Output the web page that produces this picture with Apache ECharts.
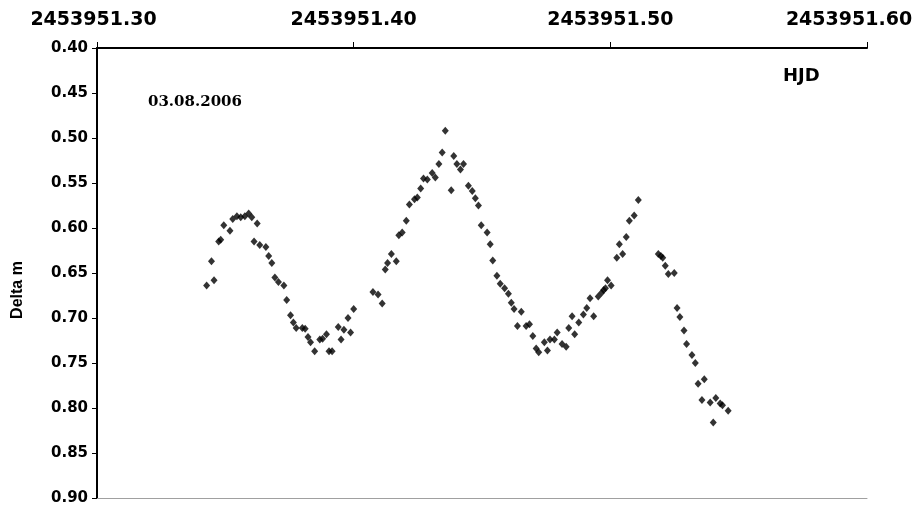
<!DOCTYPE html>
<html>
<head>
<meta charset="utf-8">
<script src="https://cdn.jsdelivr.net/npm/echarts@6/dist/echarts.min.js"></script>
<style>html,body{margin:0;padding:0;background:#fff}#c{width:923px;height:512px}</style>
</head>
<body>
<div id="c"></div>
<script>
// HJD values
const hjd = [
2453951.3427,2453951.3446,2453951.3456,2453951.3474,2453951.3482,2453951.3494,2453951.3518,2453951.3529,2453951.3545,2453951.3560,
2453951.3576,2453951.3591,2453951.3603,2453951.3624,2453951.3612,2453951.3634,2453951.3658,2453951.3669,2453951.3681,2453951.3693,
2453951.3707,2453951.3728,2453951.3739,2453951.3754,2453951.3765,2453951.3776,2453951.3800,2453951.3811,2453951.3822,2453951.3832,
2453951.3848,2453951.3868,2453951.3879,2453951.3894,2453951.3904,2453951.3916,2453951.3940,2453951.3951,2453951.3962,2453951.3978,
2453951.3988,2453951.4000,2453951.4075,2453951.4095,2453951.4111,2453951.4123,2453951.4132,2453951.4147,2453951.4166,2453951.4176,
2453951.4189,2453951.4205,2453951.4217,2453951.4237,2453951.4248,2453951.4261,2453951.4272,2453951.4287,2453951.4306,2453951.4318,
2453951.4332,2453951.4345,2453951.4357,2453951.4380,2453951.4390,2453951.4402,2453951.4416,2453951.4428,2453951.4447,2453951.4462,
2453951.4474,2453951.4486,2453951.4497,2453951.4520,2453951.4532,2453951.4542,2453951.4558,2453951.4571,2453951.4588,2453951.4603,
2453951.4614,2453951.4625,2453951.4638,2453951.4653,2453951.4672,2453951.4685,2453951.4698,2453951.4711,2453951.4721,2453951.4743,
2453951.4755,2453951.4765,2453951.4782,2453951.4793,2453951.4812,2453951.4828,2453951.4838,2453951.4851,2453951.4861,2453951.4877,
2453951.4895,2453951.4908,2453951.4921,2453951.4935,2453951.4953,2453951.4966,2453951.4974,2453951.4981,2453951.4989,2453951.5003,
2453951.5025,2453951.5035,2453951.5048,2453951.5062,2453951.5074,2453951.5093,2453951.5109,2453951.5187,2453951.5197,2453951.5204,
2453951.5214,2453951.5226,2453951.5249,2453951.5260,2453951.5271,2453951.5287,2453951.5297,2453951.5318,2453951.5331,2453951.5342,
2453951.5366,2453951.5357,2453951.5389,2453951.5401,2453951.5411,2453951.5428,2453951.5437,2453951.5459
];
// Delta m values
const deltaM = [
0.664,0.637,0.658,0.615,0.613,0.597,0.603,0.590,0.587,0.588,
0.587,0.584,0.588,0.595,0.615,0.619,0.621,0.631,0.639,0.655,
0.660,0.664,0.680,0.697,0.705,0.711,0.711,0.712,0.721,0.727,
0.737,0.724,0.723,0.718,0.737,0.737,0.710,0.724,0.713,0.700,
0.716,0.690,0.671,0.674,0.684,0.646,0.639,0.629,0.637,0.608,
0.605,0.592,0.574,0.568,0.566,0.556,0.545,0.546,0.539,0.544,
0.529,0.516,0.492,0.558,0.520,0.529,0.535,0.529,0.553,0.559,
0.567,0.575,0.597,0.605,0.618,0.636,0.653,0.662,0.667,0.673,
0.683,0.690,0.709,0.693,0.709,0.707,0.720,0.734,0.738,0.727,
0.736,0.724,0.724,0.716,0.729,0.732,0.711,0.698,0.718,0.705,
0.696,0.689,0.678,0.698,0.676,0.672,0.669,0.667,0.658,0.664,
0.633,0.618,0.629,0.610,0.592,0.586,0.569,0.629,0.631,0.633,
0.642,0.651,0.650,0.689,0.699,0.714,0.729,0.741,0.750,0.773,
0.768,0.791,0.794,0.816,0.789,0.795,0.797,0.803
];
const xMin = 2453951.30, xMax = 2453951.60, xStep = 0.10;
const yMin = 0.40, yMax = 0.90, yStep = 0.05;
const dateLabel = '03.08.2006';

const points = hjd.map((x, i) => [x, deltaM[i]]);
const chart = echarts.init(document.getElementById('c'), null, {renderer: 'canvas'});
const base = 2453951.30;
chart.setOption({
  animation: false,
  backgroundColor: '#fff',
  grid: {left: 97, right: 56, top: 48, bottom: 14, containLabel: false},
  xAxis: [{
    type: 'value', position: 'top', min: xMin, max: xMax, interval: xStep,
    axisLine: {show: true, lineStyle: {color: '#000', width: 2}},
    axisTick: {show: true, inside: false, length: 6, lineStyle: {color: '#000', width: 1}},
    splitLine: {show: false},
    axisLabel: {
      margin: 18,
      fontFamily: 'DejaVu Sans', fontWeight: 'bold', fontSize: 19, color: '#000',
      formatter: function (v) {
        const t = (v).toFixed(2);
        if (Math.abs(v - xMax) < 1e-6) return '{last|' + t + '}';
        if (Math.abs(v - xMin) < 1e-6) return '{first|' + t + '}';
        return t;
      },
      rich: {
        last: {fontFamily: 'DejaVu Sans', fontWeight: 'bold', fontSize: 19, color: '#000', padding: [0, 36, 0, 0]},
        first: {fontFamily: 'DejaVu Sans', fontWeight: 'bold', fontSize: 19, color: '#000', padding: [0, 7, 0, 0]}
      }
    }
  }, {
    type: 'value', position: 'bottom', min: xMin, max: xMax,
    axisLine: {show: true, lineStyle: {color: '#a0a0a0', width: 1}},
    axisTick: {show: false}, axisLabel: {show: false}, splitLine: {show: false}
  }],
  yAxis: {
    type: 'value', inverse: true, min: yMin, max: yMax, interval: yStep,
    axisLine: {show: true, lineStyle: {color: '#000', width: 2}},
    axisTick: {show: true, inside: false, length: 5, lineStyle: {color: '#000', width: 1}},
    splitLine: {show: false},
    axisLabel: {
      margin: 9,
      fontFamily: 'DejaVu Sans', fontWeight: 'bold', fontSize: 15, color: '#000',
      formatter: v => v.toFixed(2)
    }
  },
  graphic: [
    {type: 'text', left: 6, top: 0, style: {}, silent: true, invisible: true},
    {type: 'text', x: 18, y: 290, rotation: Math.PI / 2,
      style: {text: 'Delta m', fontFamily: 'Liberation Sans', fontWeight: 'bold', fontSize: 16, fill: '#000', align: 'center', verticalAlign: 'middle'}},
    {type: 'text', x: 783, y: 76,
      style: {text: 'HJD', fontFamily: 'DejaVu Sans', fontWeight: 'bold', fontSize: 18, fill: '#000', align: 'left', verticalAlign: 'middle'}},
    {type: 'text', x: 148, y: 102,
      style: {text: dateLabel, fontFamily: 'DejaVu Serif', fontWeight: 'bold', fontSize: 15, fill: '#000', align: 'left', verticalAlign: 'middle'}}
  ],
  series: [{
    type: 'scatter', xAxisIndex: 0, data: points,
    symbol: 'diamond', symbolSize: [7, 8],
    itemStyle: {color: '#000'}
  }]
});
</script>
</body>
</html>
